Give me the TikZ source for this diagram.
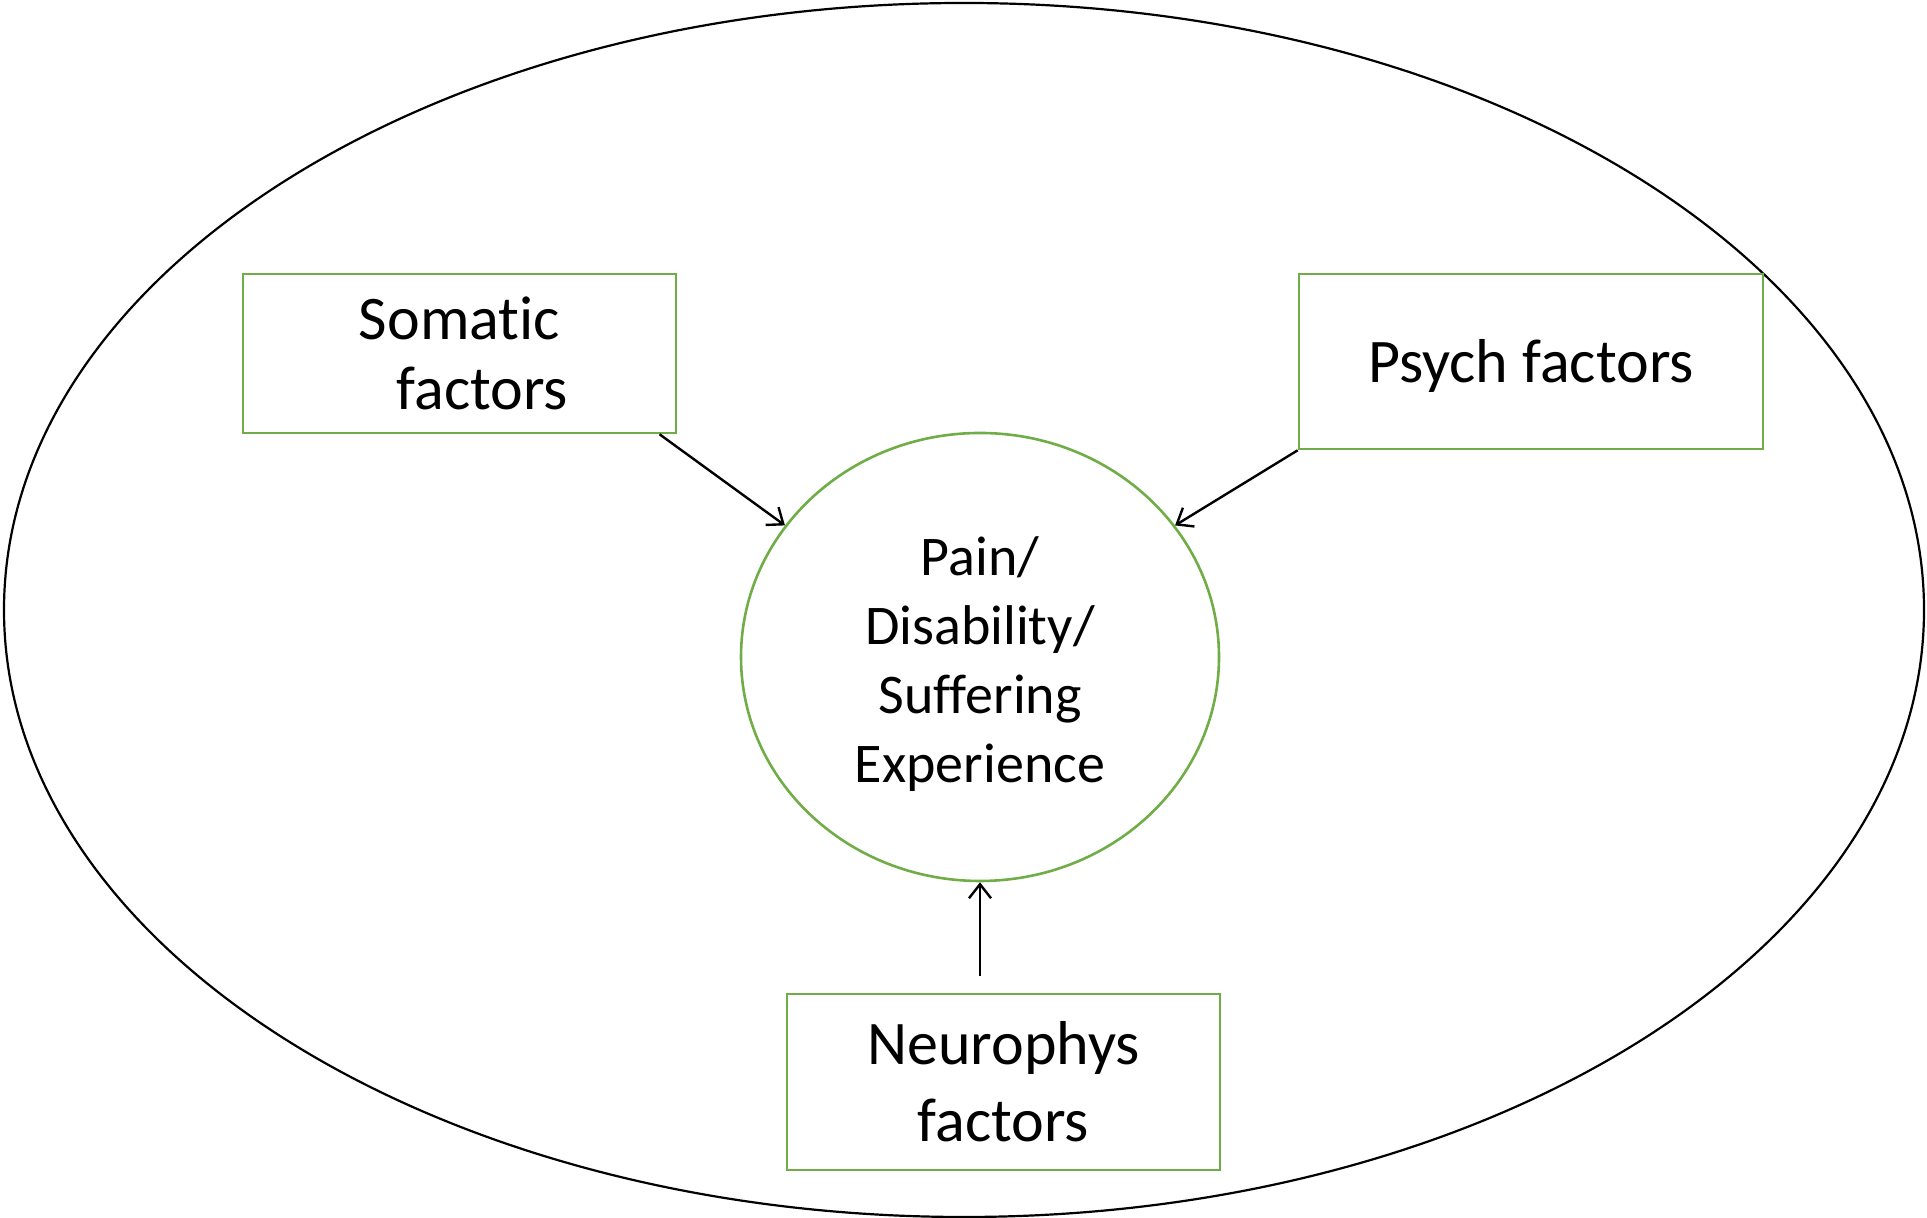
\documentclass[tikz,border=0pt]{standalone}
\usepackage{fontspec}
\setmainfont{Carlito}[Ligatures=NoCommon]
\usetikzlibrary{calc,shapes.geometric,arrows.meta}
\definecolor{boxgreen}{RGB}{112,173,71}

\begin{document}
\begin{tikzpicture}[x=0.5pt,y=0.5pt,
factorbox/.style={draw=boxgreen,line width=1.3pt,align=center,inner sep=0pt,font=\fontsize{31}{35}\selectfont},
link/.style={-{Straight Barb[length=7pt,width=11pt]},line width=1.2pt}]
\useasboundingbox (0,0) rectangle (1927,1218);
\draw [line width=1.1pt] (964,608) ellipse (480pt and 303.5pt);
\node (pain) [ellipse,draw=boxgreen,line width=1.3pt,minimum width=239pt,minimum height=224pt,inner sep=0pt,align=center,font=\fontsize{28}{34.5}\selectfont] at (980,561) {\rule{0pt}{27pt}Pain/\\Disability/\\Suffering\\Experience};
\node (somatic) [factorbox,minimum width=216.5pt,minimum height=79.5pt] at (459.5,864.5) {Somatic\\\hspace*{23pt}factors};
\node (psych) [factorbox,minimum width=232pt,minimum height=87.5pt,text height=28pt,text depth=7pt] at (1531,856.5) {Psych factors};
\node (neuro) [factorbox,minimum width=216.5pt,minimum height=88pt,font=\fontsize{31}{38.5}\selectfont] at (1003.5,136) {Neurophys\\factors};
\draw [link] (somatic.-22) -- (pain.146);
\draw [link] (psych.south west) -- (pain.34);
\draw [link] ($(neuro.north)+(-23.5,17)$) -- (pain.south);
\end{tikzpicture}
\end{document}
